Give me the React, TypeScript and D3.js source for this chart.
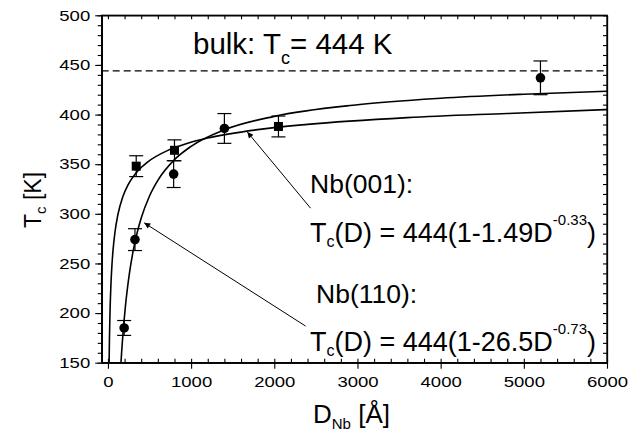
import { useEffect, useRef } from "react";
import * as d3 from "d3";

// measured points, Nb(001) squares
const nb001D = [340, 800, 2050];
const nb001Tc = [348, 364, 388];
const nb001Err = [10.5, 10.5, 10.5];

// measured points, Nb(110) circles
const nb110D = [195, 325, 790, 1400, 5200];
const nb110Tc = [185, 274, 340, 386, 437];
const nb110Err = [7.5, 11, 13.5, 15, 17];

// fitted curves
const fit001D = [12, 14.4, 18, 24, 36, 48, 60, 84, 120, 180, 240, 360, 480, 720, 960, 1200, 1800, 2400, 3600, 4800, 6000];
const fit001Tc = [134.6, 152.6, 173.4, 197.8, 228.7, 248.2, 262.1, 281.2, 299.3, 317.4, 328.8, 343.3, 352.4, 363.9, 371.1, 376.3, 384.8, 390.1, 396.9, 401.1, 405];
const fit110D = [150, 157, 165, 175, 190, 210, 230, 260, 300, 350, 400, 500, 600, 800, 1000, 1400, 2000, 3000, 4000, 5000, 6000];
const fit110Tc = [140.6, 150.4, 160.9, 172.9, 188.7, 206.7, 222.0, 241.0, 261.1, 280.6, 295.7, 318.0, 333.7, 354.6, 368.0, 384.6, 398.2, 409.9, 416.4, 420.5, 423.5];

const bulkTc = 444;

// annotation arrows: [tailD, tailTc, tipD, tipTc]
const arrow001 = [2436, 305.7, 1676, 382.4];
const arrow110 = [2376, 186.9, 436, 290.9];

const xTicks = [0, 1000, 2000, 3000, 4000, 5000, 6000];
const yTicks = [150, 200, 250, 300, 350, 400, 450, 500];

const W = 641;
const H = 437;
const font = "'Liberation Sans', Arial, Helvetica, sans-serif";

const App = () => {
  const svgRef = useRef(null);

  useEffect(() => {
    const svg = d3.select(svgRef.current);
    svg.selectAll("*").remove();

    const left = 101.7;
    const right = 607;
    const top = 15.3;
    const bottom = 362.7;

    const x = d3.scaleLinear().domain([-75, 6000]).range([left, right]);
    const y = d3.scaleLinear().domain([150, 500]).range([bottom, top]);

    svg
      .append("defs")
      .call((d) =>
        d
          .append("clipPath")
          .attr("id", "plot")
          .append("rect")
          .attr("x", left)
          .attr("y", top)
          .attr("width", right - left)
          .attr("height", bottom - top)
      )
      .call((d) =>
        d
          .append("marker")
          .attr("id", "head")
          .attr("markerUnits", "userSpaceOnUse")
          .attr("viewBox", "0 0 10 10")
          .attr("refX", 10)
          .attr("refY", 5)
          .attr("markerWidth", 9)
          .attr("markerHeight", 6)
          .attr("orient", "auto")
          .append("path")
          .attr("d", "M0,0L10,5L0,10z")
          .attr("fill", "#000")
      );

    const minorX = d3.range(0, 6001, 200);
    const minorY = d3.range(150, 501, 10);
    const fmt = d3.format("d");

    const styleAxis = (g) => {
      g.select(".domain").attr("stroke", "#000").attr("stroke-width", 1.3);
      g.selectAll(".tick line").attr("stroke", "#000").attr("stroke-width", 1.1);
    };
    const styleLabels = (g) =>
      g
        .selectAll("text")
        .attr("font-family", font)
        .attr("font-size", 15)
        .attr("fill", "#000")
        .attr("lengthAdjust", "spacingAndGlyphs")
        .attr("textLength", (d) => fmt(d).length * 10.3);

    // bottom
    svg
      .append("g")
      .attr("transform", `translate(0,${bottom})`)
      .call(d3.axisBottom(x).tickValues(minorX).tickSize(-4).tickFormat(() => "").tickSizeOuter(0))
      .call(styleAxis);
    svg
      .append("g")
      .attr("transform", `translate(0,${bottom})`)
      .call(d3.axisBottom(x).tickValues(xTicks).tickFormat(fmt).tickSize(6).tickPadding(8).tickSizeOuter(0))
      .call(styleAxis)
      .call(styleLabels);

    // left
    svg
      .append("g")
      .attr("transform", `translate(${left},0)`)
      .call(d3.axisLeft(y).tickValues(minorY).tickSize(4).tickFormat(() => "").tickSizeOuter(0))
      .call(styleAxis);
    svg
      .append("g")
      .attr("transform", `translate(${left},0)`)
      .call(d3.axisLeft(y).tickValues(yTicks).tickFormat(fmt).tickSize(6.5).tickPadding(5).tickSizeOuter(0))
      .call(styleAxis)
      .call(styleLabels);

    // top
    svg
      .append("g")
      .attr("transform", `translate(0,${top})`)
      .call(d3.axisTop(x).tickValues(minorX).tickSize(-4).tickFormat(() => "").tickSizeOuter(0))
      .call(styleAxis);

    // right
    svg
      .append("g")
      .attr("transform", `translate(${right},0)`)
      .call(d3.axisRight(y).tickValues(minorY).tickSize(-4).tickFormat(() => "").tickSizeOuter(0))
      .call(styleAxis);

    // frame edges so the corners close
    svg
      .append("rect")
      .attr("x", left)
      .attr("y", top)
      .attr("width", right - left)
      .attr("height", bottom - top)
      .attr("fill", "none")
      .attr("stroke", "#000")
      .attr("stroke-width", 1.3);

    // bulk dashed line
    svg
      .append("line")
      .attr("x1", left)
      .attr("x2", right)
      .attr("y1", y(bulkTc))
      .attr("y2", y(bulkTc))
      .attr("stroke", "#000")
      .attr("stroke-width", 1.2)
      .attr("stroke-dasharray", "7,4");

    // fit curves
    const line = d3
      .line()
      .x((d) => x(d[0]))
      .y((d) => y(d[1]))
      .curve(d3.curveMonotoneX);

    const curves = svg.append("g").attr("clip-path", "url(#plot)");
    [
      [fit001D, fit001Tc],
      [fit110D, fit110Tc],
    ].forEach(([ds, ts]) => {
      curves
        .append("path")
        .datum(ds.map((dv, i) => [dv, ts[i]]))
        .attr("fill", "none")
        .attr("stroke", "#000")
        .attr("stroke-width", 1.6)
        .attr("d", line);
    });

    // error bars
    const errorBars = (ds, ts, es) => {
      const g = svg.append("g").attr("stroke", "#000").attr("stroke-width", 1.2);
      ds.forEach((dv, i) => {
        const cx = x(dv);
        const y1 = y(ts[i] + es[i]);
        const y2 = y(ts[i] - es[i]);
        g.append("line").attr("x1", cx).attr("x2", cx).attr("y1", y1).attr("y2", y2);
        g.append("line").attr("x1", cx - 7).attr("x2", cx + 7).attr("y1", y1).attr("y2", y1);
        g.append("line").attr("x1", cx - 7).attr("x2", cx + 7).attr("y1", y2).attr("y2", y2);
      });
    };
    errorBars(nb001D, nb001Tc, nb001Err);
    errorBars(nb110D, nb110Tc, nb110Err);

    svg
      .append("g")
      .selectAll("rect")
      .data(nb001D)
      .join("rect")
      .attr("x", (d) => x(d) - 4.5)
      .attr("y", (d, i) => y(nb001Tc[i]) - 4.5)
      .attr("width", 9)
      .attr("height", 9)
      .attr("fill", "#000");

    svg
      .append("g")
      .selectAll("circle")
      .data(nb110D)
      .join("circle")
      .attr("cx", (d) => x(d))
      .attr("cy", (d, i) => y(nb110Tc[i]))
      .attr("r", 4.8)
      .attr("fill", "#000");

    // arrows
    [arrow001, arrow110].forEach((a) => {
      svg
        .append("line")
        .attr("x1", x(a[0]))
        .attr("y1", y(a[1]))
        .attr("x2", x(a[2]))
        .attr("y2", y(a[3]))
        .attr("stroke", "#000")
        .attr("stroke-width", 1)
        .attr("marker-end", "url(#head)");
    });

    // texts
    const label = (tx, ty, size) =>
      svg
        .append("text")
        .attr("x", tx)
        .attr("y", ty)
        .attr("font-family", font)
        .attr("font-size", size)
        .attr("fill", "#000");

    const bulk = label(193, 54, 29.5);
    bulk.append("tspan").text("bulk: T");
    bulk.append("tspan").attr("font-size", 18).attr("dy", 10).text("c");
    bulk.append("tspan").attr("dy", -10).text(`= ${bulkTc} K`);

    label(310, 193, 26.5).text("Nb(001):");
    const f1 = label(310, 242, 27);
    f1.append("tspan").text("T");
    f1.append("tspan").attr("font-size", 16).attr("dy", 5).text("c");
    f1.append("tspan").attr("dy", -5).text("(D) = 444(1-1.49D");
    f1.append("tspan").attr("font-size", 15).attr("dy", -17).text("-0.33");
    f1.append("tspan").attr("dy", 17).text(")");

    label(316, 303, 26.5).text("Nb(110):");
    const f2 = label(310, 351, 27);
    f2.append("tspan").text("T");
    f2.append("tspan").attr("font-size", 16).attr("dy", 5).text("c");
    f2.append("tspan").attr("dy", -5).text("(D) = 444(1-26.5D");
    f2.append("tspan").attr("font-size", 15).attr("dy", -17).text("-0.73");
    f2.append("tspan").attr("dy", 17).text(")");

    const xt = label(313, 423, 26);
    xt.append("tspan").text("D");
    xt.append("tspan").attr("font-size", 15).attr("dy", 6).text("Nb");
    xt.append("tspan").attr("dy", -6).text(" [Å]");

    const yt = svg
      .append("text")
      .attr("transform", "translate(41,200) rotate(-90)")
      .attr("text-anchor", "middle")
      .attr("font-family", font)
      .attr("font-size", 23)
      .attr("fill", "#000");
    yt.append("tspan").text("T");
    yt.append("tspan").attr("font-size", 15).attr("dy", 5).text("c");
    yt.append("tspan").attr("dy", -5).text(" [K]");
  }, []);

  return (
    <svg
      ref={svgRef}
      width={W}
      height={H}
      style={{ position: "absolute", left: 0, top: 0, background: "#fff" }}
    />
  );
};

export default App;
